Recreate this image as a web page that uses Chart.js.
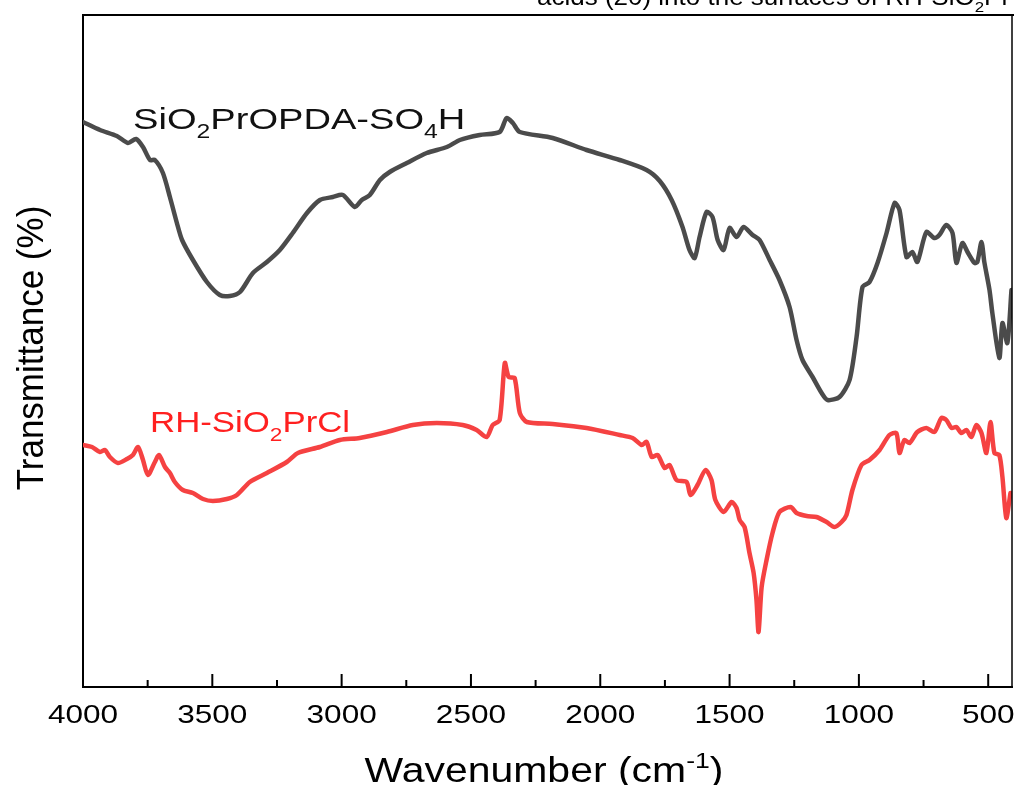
<!DOCTYPE html>
<html>
<head>
<meta charset="utf-8">
<script src="https://cdn.jsdelivr.net/npm/chart.js@4.4.1/dist/chart.umd.min.js"></script>
<style>
  html, body { margin: 0; padding: 0; background: #fff; }
  #wrap { width: 1014px; height: 785px; }
</style>
</head>
<body>
<div id="wrap"><canvas id="ftirChart" width="1014" height="785"></canvas></div>
<script>
// ------------------------- DATA -------------------------
// wavenumbers (cm-1) and transmittance (a.u., offset spectra)
const greyWavenumber = [4000, 3934, 3869, 3826, 3795, 3768, 3741, 3722, 3691, 3664, 3637, 3617, 3575, 3521, 3471, 3432,
  3393, 3343, 3289, 3239, 3189, 3134, 3084, 3034, 2995, 2949, 2922, 2891, 2852, 2814, 2748, 2671, 2593, 2543, 2466,
  2389, 2362, 2338, 2311, 2184, 2053, 1925, 1821, 1770, 1724, 1682, 1655, 1635, 1616, 1589, 1566, 1546, 1523, 1500,
  1473, 1446, 1411, 1384, 1345, 1307, 1268, 1241, 1218, 1179, 1144, 1121, 1075, 1036, 1009, 986, 959, 928, 893, 862,
  843, 816, 793, 774, 739, 708, 689, 662, 638, 623, 600, 580, 553, 542, 526, 515, 495, 484, 457, 445, 426, 410];
const greyTransmittance = [565, 557, 551, 544, 548, 540, 527, 527, 514, 490, 464, 447, 427, 405, 392, 391,
  395, 414, 425, 437, 454, 474, 487, 490, 492, 480, 487, 492, 507, 515, 524, 534, 540, 547, 552,
  555, 569, 564, 555, 549, 537, 527, 517, 506, 487, 460, 437, 429, 450, 475, 470, 447, 437, 459,
  450, 460, 452, 447, 427, 407, 380, 347, 327, 310, 294, 287, 290, 307, 350, 400, 405, 424, 454, 484,
  477, 430, 435, 425, 455, 449, 452, 462, 454, 424, 444, 435, 424, 425, 445, 425, 397, 374, 329, 364, 344, 397];

const redWavenumber = [4000, 3965, 3934, 3915, 3896, 3865, 3830, 3807, 3787, 3768, 3749, 3722, 3706, 3683, 3664, 3645,
  3614, 3575, 3536, 3498, 3444, 3405, 3355, 3289, 3212, 3169, 3084, 3007, 2930, 2825, 2725, 2632, 2532, 2478, 2439,
  2416, 2389, 2369, 2354, 2331, 2311, 2284, 2184, 2053, 1925, 1875, 1840, 1821, 1801, 1778, 1751, 1732, 1705, 1666,
  1651, 1624, 1593, 1570, 1555, 1523, 1492, 1473, 1461, 1442, 1423, 1407, 1396, 1388, 1376, 1357, 1334, 1307, 1264,
  1241, 1202, 1164, 1125, 1094, 1067, 1048, 1025, 990, 959, 920, 882, 855, 843, 824, 804, 774, 739, 708, 681, 662,
  642, 623, 604, 584, 565, 546, 526, 507, 491, 476, 457, 445, 430, 414];
const redTransmittance = [242, 240, 235, 237, 230, 224, 228, 232, 240, 227, 212, 225, 232, 220, 214, 205,
  197, 194, 188, 186, 188, 192, 205, 214, 225, 234, 240, 247, 249, 255, 262, 264, 262, 257, 250,
  262, 267, 324, 310, 309, 274, 265, 263, 259, 252, 249, 242, 245, 230, 232, 219, 222, 207, 205,
  192, 202, 217, 207, 187, 175, 185, 179, 167, 160, 134, 114, 87, 55, 100, 127, 154, 175, 180,
  174, 171, 170, 165, 160, 165, 172, 197, 222, 227, 237, 252, 254, 234, 247, 244, 255, 259, 255, 269, 267,
  259, 260, 254, 257, 250, 262, 254, 234, 265, 234, 232, 210, 169, 194];

const xTickValues = [4000, 3500, 3000, 2500, 2000, 1500, 1000, 500];
const xMinorStep = 250;
const xTitle = [['Wavenumber (cm', ''], ['-1', 'sup'], [')', '']];
const yTitle = 'Transmittance (%)';
const greyLabel = [['SiO', ''], ['2', 'sub'], ['PrOPDA-SO', ''], ['4', 'sub'], ['H', '']];
const redLabel = [['RH-SiO', ''], ['2', 'sub'], ['PrCl', '']];
const captionTail = [['acids (20) into the surfaces of RH-SiO', ''], ['2', 'sub'], ['Pr', '']];

const GREY = '#4b4b4b';
const RED = '#f54242';
const FONT = '"Liberation Sans", Arial, sans-serif';

// ------------------------- TEXT HELPER -------------------------
// draws text with sub/superscripts, stretched horizontally like the source figure
function richText(ctx, parts, x, y, size, sx, align, color) {
  let w = 0;
  const sizes = parts.map(p => p[1] ? size * 0.65 : size);
  parts.forEach((p, i) => { ctx.font = sizes[i] + 'px ' + FONT; w += ctx.measureText(p[0]).width; });
  ctx.save();
  ctx.translate(x, y);
  ctx.scale(sx, 1);
  let cx = align === 'center' ? -w / 2 : 0;
  ctx.fillStyle = color;
  ctx.textBaseline = 'alphabetic';
  ctx.textAlign = 'left';
  parts.forEach((p, i) => {
    ctx.font = sizes[i] + 'px ' + FONT;
    const dy = p[1] === 'sub' ? size * 0.3 : p[1] === 'sup' ? -size * 0.4 : 0;
    ctx.fillText(p[0], cx, dy);
    cx += ctx.measureText(p[0]).width;
  });
  ctx.restore();
}

// ------------------------- FRAME / TICKS / TEXT PLUGIN -------------------------
const framePlugin = {
  id: 'frame',
  afterDraw(chart) {
    const { ctx, chartArea, scales } = chart;
    const xs = scales.x;
    ctx.save();
    ctx.strokeStyle = '#000';
    ctx.lineWidth = 2;

    // top and right border
    ctx.beginPath();
    ctx.moveTo(chartArea.left, chartArea.top);
    ctx.lineTo(chart.width, chartArea.top);
    ctx.stroke();
    ctx.lineWidth = 1.5;
    ctx.beginPath();
    ctx.moveTo(chartArea.right, chartArea.top);
    ctx.lineTo(chartArea.right, chartArea.bottom);
    ctx.stroke();

    // inward ticks, major every 500, minor every 250
    ctx.lineWidth = 2;
    for (let v = 4000; v >= xs.min; v -= xMinorStep) {
      const px = xs.getPixelForValue(v);
      const len = v % 500 === 0 ? 13 : 7;
      ctx.beginPath();
      ctx.moveTo(px, chartArea.bottom);
      ctx.lineTo(px, chartArea.bottom - len);
      ctx.stroke();
    }

    // tick labels
    xTickValues.forEach(v => {
      richText(ctx, [[String(v), '']], xs.getPixelForValue(v), 723, 26.5, 1.19, 'center', '#000');
    });

    // axis titles
    richText(ctx, xTitle, 544, 782, 35, 1.17, 'center', '#000');
    ctx.save();
    ctx.translate(43, 348);
    ctx.rotate(-Math.PI / 2);
    ctx.scale(1, 1.08);
    richText(ctx, [[yTitle, '']], 0, 0, 35, 1, 'center', '#000');
    ctx.restore();

    // series labels
    richText(ctx, greyLabel, 133, 129, 30, 1.27, 'left', '#111');
    richText(ctx, redLabel, 150, 432, 29, 1.2, 'left', '#ff2020');

    // cropped caption at the top edge
    richText(ctx, captionTail, 537, 5, 23, 1.13, 'left', '#000');
    ctx.restore();
  }
};

// ------------------------- CHART -------------------------
const toPoints = (xs, ys) => xs.map((x, i) => ({ x, y: ys[i] }));

new Chart(document.getElementById('ftirChart').getContext('2d'), {
  type: 'line',
  data: {
    datasets: [
      { label: 'SiO2PrOPDA-SO4H', data: toPoints(greyWavenumber, greyTransmittance),
        borderColor: GREY, borderWidth: 4.5, pointRadius: 0, tension: 0.25,
        borderJoinStyle: 'round', borderCapStyle: 'round', fill: false },
      { label: 'RH-SiO2PrCl', data: toPoints(redWavenumber, redTransmittance),
        borderColor: RED, borderWidth: 4.5, pointRadius: 0, tension: 0.25,
        borderJoinStyle: 'round', borderCapStyle: 'round', fill: false }
    ]
  },
  options: {
    responsive: false,
    animation: false,
    devicePixelRatio: 1,
    layout: { autoPadding: false, padding: { top: 15, right: 2, left: 0, bottom: 0 } },
    plugins: { legend: { display: false }, tooltip: { enabled: false }, title: { display: false } },
    scales: {
      x: {
        type: 'linear', reverse: true, min: 408, max: 4000,
        grid: { display: false },
        border: { display: true, color: '#000', width: 2 },
        ticks: { display: false },
        afterFit: s => { s.height = 98; }
      },
      y: {
        type: 'linear', min: 0, max: 672,
        grid: { display: false },
        border: { display: true, color: '#000', width: 2 },
        ticks: { display: false },
        afterFit: s => { s.width = 83; }
      }
    }
  },
  plugins: [framePlugin]
});
</script>
</body>
</html>
